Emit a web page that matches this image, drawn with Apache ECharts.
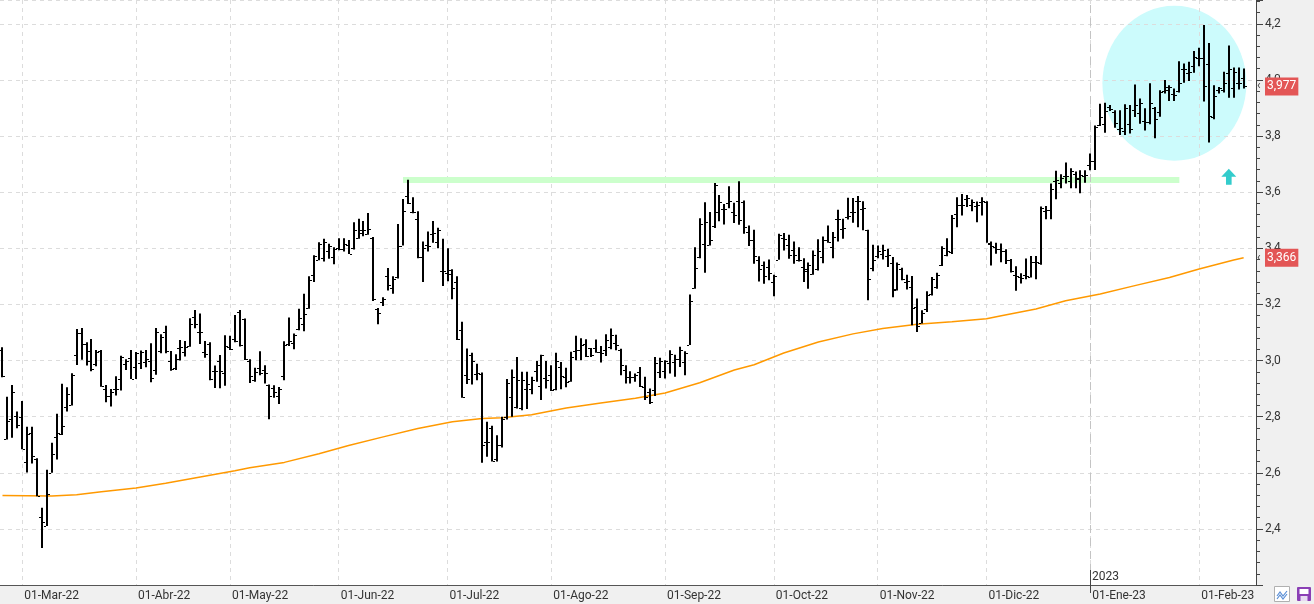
<!DOCTYPE html>
<html>
<head>
<meta charset="utf-8">
<title>Cotización</title>
<script src="https://cdn.jsdelivr.net/npm/echarts@6/dist/echarts.min.js"></script>
<style>
    html, body { margin: 0; padding: 0; background: #fff; }
    #chart { width: 1314px; height: 604px; }
</style>
</head>
<body>
<div id="chart"></div>
<script>
'use strict';

// sesiones (dias habiles) del grafico, con dos huecos al final
var firstDay = '2022-02-23';
var lastDay = '2023-02-16';
var holidays = ['2022-04-15', '2022-04-18', '2022-12-26'];
var monthNames = ['Ene', 'Feb', 'Mar', 'Abr', 'May', 'Jun', 'Jul', 'Ago', 'Sep', 'Oct', 'Nov', 'Dic'];

// OHLC diario
var opens = [
    3.037, 2.721, 2.790, 2.804, 2.800, 2.640, 2.740, 2.650, 2.442, 2.410,
    2.600, 2.727, 2.737, 2.836, 2.842, 3.020, 3.097, 3.059, 3.000, 2.988,
    3.033, 2.899, 2.875, 2.899, 2.934, 2.988, 3.008, 2.976, 2.990, 2.996,
    3.000, 2.966, 3.033, 3.103, 3.000, 2.972, 3.043, 3.030, 3.053, 3.156,
    3.100, 3.030, 3.059, 2.964, 3.000, 2.955, 3.047, 3.077, 3.172, 3.148,
    3.000, 2.930, 2.972, 2.966, 2.912, 2.903, 2.874, 2.945, 3.058, 3.064,
    3.114, 3.132, 3.187, 3.304, 3.360, 3.365, 3.390, 3.370, 3.400, 3.398,
    3.413, 3.400, 3.437, 3.466, 3.452, 3.438, 3.185, 3.210, 3.300, 3.260,
    3.298, 3.410, 3.588, 3.530, 3.505, 3.370, 3.413, 3.452, 3.422, 3.320,
    3.312, 3.321, 3.280, 3.110, 2.950, 3.019, 2.953, 2.953, 2.710, 2.758,
    2.650, 2.700, 2.800, 2.870, 2.835, 2.830, 2.900, 2.900, 2.962, 2.910,
    2.936, 2.948, 2.900, 2.977, 2.942, 2.927, 3.033, 3.037, 3.058, 3.043,
    3.045, 3.031, 3.037, 3.049, 3.061, 3.037, 2.966, 2.940, 2.940, 2.960,
    2.906, 2.888, 2.895, 2.960, 2.962, 2.993, 2.995, 3.007, 2.995, 3.057,
    3.260, 3.369, 3.416, 3.413, 3.479, 3.531, 3.540, 3.562, 3.529, 3.568,
    3.564, 3.458, 3.428, 3.360, 3.339, 3.333, 3.280, 3.360, 3.438, 3.413,
    3.395, 3.360, 3.333, 3.318, 3.310, 3.327, 3.369, 3.430, 3.404, 3.505,
    3.470, 3.511, 3.529, 3.567, 3.540, 3.464, 3.330, 3.372, 3.381, 3.372,
    3.349, 3.254, 3.327, 3.280, 3.262, 3.191, 3.135, 3.185, 3.238, 3.262,
    3.339, 3.377, 3.387, 3.523, 3.555, 3.576, 3.553, 3.550, 3.564, 3.564,
    3.416, 3.404, 3.398, 3.389, 3.358, 3.306, 3.296, 3.306, 3.299, 3.350,
    3.346, 3.533, 3.535, 3.640, 3.634, 3.656, 3.640, 3.664, 3.646, 3.658,
    3.696, 3.711, 3.840, 3.842, 3.905, 3.887, 3.824, 3.818, 3.842, 3.893,
    3.883, 3.854, 3.851, 3.901, 3.887, 3.960, 3.976, 3.949, 3.960, 4.038,
    4.026, 4.049, 4.079, 4.080, 4.058, 3.868, 3.966, 3.966, 4.026, 3.970,
    3.990, 4.008
];
var highs = [
    3.047, 2.871, 2.913, 2.818, 2.856, 2.764, 2.764, 2.652, 2.475, 2.611,
    2.707, 2.810, 2.917, 2.905, 2.955, 3.112, 3.116, 3.065, 3.077, 3.038,
    3.038, 2.913, 2.899, 2.944, 3.017, 3.005, 3.038, 3.030, 3.036, 3.038,
    3.062, 3.116, 3.094, 3.124, 3.034, 3.022, 3.073, 3.070, 3.151, 3.180,
    3.168, 3.070, 3.065, 2.982, 3.020, 3.090, 3.088, 3.162, 3.180, 3.150,
    3.005, 2.974, 3.033, 2.983, 2.915, 2.912, 2.906, 3.069, 3.153, 3.096,
    3.185, 3.238, 3.300, 3.375, 3.422, 3.434, 3.416, 3.404, 3.436, 3.436,
    3.430, 3.493, 3.505, 3.497, 3.526, 3.440, 3.187, 3.226, 3.330, 3.300,
    3.487, 3.576, 3.644, 3.582, 3.532, 3.424, 3.460, 3.497, 3.473, 3.434,
    3.400, 3.325, 3.300, 3.138, 3.043, 3.028, 2.989, 2.957, 2.782, 2.768,
    2.734, 2.800, 2.934, 2.968, 3.013, 2.960, 2.960, 2.942, 2.998, 3.021,
    2.998, 2.983, 3.028, 2.995, 2.974, 3.031, 3.088, 3.079, 3.076, 3.045,
    3.075, 3.052, 3.094, 3.114, 3.092, 3.042, 2.983, 2.962, 2.954, 2.977,
    2.942, 2.900, 3.013, 3.010, 3.001, 3.037, 3.021, 3.049, 3.033, 3.235,
    3.404, 3.507, 3.564, 3.529, 3.633, 3.590, 3.558, 3.621, 3.562, 3.639,
    3.570, 3.481, 3.466, 3.372, 3.353, 3.360, 3.306, 3.452, 3.455, 3.448,
    3.424, 3.404, 3.365, 3.349, 3.392, 3.432, 3.442, 3.481, 3.458, 3.537,
    3.505, 3.580, 3.579, 3.586, 3.568, 3.466, 3.413, 3.410, 3.413, 3.398,
    3.369, 3.349, 3.331, 3.306, 3.301, 3.221, 3.179, 3.247, 3.298, 3.313,
    3.407, 3.436, 3.519, 3.582, 3.594, 3.590, 3.574, 3.567, 3.582, 3.568,
    3.424, 3.420, 3.417, 3.397, 3.362, 3.336, 3.311, 3.364, 3.373, 3.373,
    3.549, 3.551, 3.631, 3.676, 3.664, 3.706, 3.685, 3.674, 3.678, 3.678,
    3.738, 3.838, 3.915, 3.919, 3.911, 3.892, 3.892, 3.913, 3.911, 3.984,
    3.934, 3.899, 3.988, 3.904, 3.963, 4.000, 3.981, 3.970, 4.067, 4.059,
    4.065, 4.103, 4.115, 4.196, 4.132, 3.981, 3.975, 4.029, 4.123, 4.044,
    4.044, 4.041
];
var lows = [
    2.940, 2.719, 2.725, 2.759, 2.684, 2.601, 2.633, 2.516, 2.332, 2.410,
    2.600, 2.647, 2.735, 2.818, 2.840, 2.984, 3.003, 2.982, 2.962, 2.980,
    2.907, 2.851, 2.836, 2.875, 2.893, 2.966, 2.934, 2.934, 2.970, 2.976,
    2.923, 2.949, 3.026, 3.026, 2.964, 2.966, 3.000, 3.014, 3.049, 3.115,
    3.059, 3.010, 2.930, 2.902, 2.901, 2.910, 3.038, 3.065, 3.050, 3.002,
    2.920, 2.924, 2.948, 2.918, 2.791, 2.867, 2.845, 2.930, 3.052, 3.040,
    3.108, 3.104, 3.185, 3.280, 3.357, 3.353, 3.363, 3.343, 3.393, 3.389,
    3.380, 3.396, 3.434, 3.443, 3.448, 3.212, 3.129, 3.194, 3.250, 3.238,
    3.292, 3.410, 3.558, 3.525, 3.365, 3.280, 3.389, 3.420, 3.400, 3.266,
    3.283, 3.218, 3.073, 2.867, 2.916, 2.915, 2.930, 2.636, 2.657, 2.640,
    2.640, 2.690, 2.790, 2.800, 2.829, 2.823, 2.827, 2.880, 2.924, 2.859,
    2.900, 2.891, 2.894, 2.898, 2.905, 2.924, 3.001, 3.001, 3.013, 3.013,
    3.028, 2.993, 3.016, 3.040, 3.037, 2.948, 2.918, 2.918, 2.924, 2.906,
    2.859, 2.845, 2.874, 2.938, 2.936, 2.954, 2.942, 2.977, 2.948, 3.055,
    3.256, 3.365, 3.313, 3.410, 3.472, 3.496, 3.485, 3.543, 3.490, 3.484,
    3.452, 3.408, 3.345, 3.282, 3.274, 3.286, 3.229, 3.359, 3.392, 3.363,
    3.345, 3.353, 3.280, 3.256, 3.306, 3.321, 3.347, 3.420, 3.365, 3.424,
    3.434, 3.503, 3.491, 3.475, 3.464, 3.215, 3.318, 3.365, 3.360, 3.333,
    3.226, 3.250, 3.286, 3.253, 3.126, 3.102, 3.132, 3.173, 3.232, 3.256,
    3.337, 3.372, 3.380, 3.475, 3.517, 3.547, 3.532, 3.493, 3.517, 3.420,
    3.339, 3.381, 3.350, 3.344, 3.314, 3.249, 3.275, 3.290, 3.296, 3.290,
    3.341, 3.504, 3.504, 3.575, 3.614, 3.631, 3.614, 3.614, 3.596, 3.634,
    3.678, 3.679, 3.836, 3.812, 3.889, 3.830, 3.804, 3.804, 3.809, 3.868,
    3.844, 3.820, 3.842, 3.792, 3.869, 3.952, 3.925, 3.925, 3.955, 3.990,
    3.996, 4.026, 4.049, 3.923, 3.777, 3.860, 3.952, 3.955, 3.937, 3.937,
    3.966, 3.970
];
var closes = [
    2.944, 2.783, 2.887, 2.771, 2.686, 2.738, 2.659, 2.517, 2.424, 2.524,
    2.668, 2.741, 2.765, 2.880, 2.949, 3.097, 3.059, 3.035, 2.970, 3.032,
    2.911, 2.875, 2.887, 2.899, 3.014, 3.000, 2.934, 3.026, 3.029, 3.005,
    2.937, 3.100, 3.083, 3.035, 2.970, 3.005, 3.050, 3.050, 3.132, 3.130,
    3.100, 3.024, 2.934, 2.962, 2.962, 3.053, 3.041, 3.071, 3.055, 3.005,
    2.944, 2.960, 2.954, 2.957, 2.874, 2.889, 2.900, 3.054, 3.070, 3.092,
    3.153, 3.165, 3.288, 3.372, 3.416, 3.424, 3.407, 3.398, 3.398, 3.416,
    3.380, 3.466, 3.455, 3.464, 3.470, 3.220, 3.171, 3.220, 3.270, 3.290,
    3.408, 3.532, 3.561, 3.528, 3.369, 3.400, 3.410, 3.455, 3.464, 3.318,
    3.310, 3.258, 3.076, 2.870, 2.934, 3.000, 2.957, 2.700, 2.708, 2.642,
    2.700, 2.790, 2.920, 2.942, 2.930, 2.930, 2.915, 2.930, 2.983, 3.020,
    2.930, 2.894, 3.000, 2.945, 2.924, 3.013, 3.037, 3.057, 3.016, 3.019,
    3.031, 3.028, 3.072, 3.092, 3.057, 2.983, 2.940, 2.940, 2.948, 2.909,
    2.870, 2.853, 2.990, 3.000, 2.998, 3.025, 3.007, 3.037, 3.028, 3.212,
    3.330, 3.487, 3.493, 3.428, 3.627, 3.564, 3.540, 3.567, 3.520, 3.500,
    3.476, 3.428, 3.372, 3.327, 3.300, 3.313, 3.300, 3.446, 3.434, 3.377,
    3.375, 3.357, 3.327, 3.339, 3.377, 3.392, 3.428, 3.424, 3.440, 3.503,
    3.472, 3.515, 3.531, 3.570, 3.543, 3.292, 3.357, 3.389, 3.395, 3.375,
    3.250, 3.345, 3.290, 3.282, 3.187, 3.123, 3.170, 3.232, 3.292, 3.306,
    3.400, 3.392, 3.507, 3.555, 3.555, 3.579, 3.564, 3.555, 3.568, 3.420,
    3.410, 3.398, 3.390, 3.358, 3.318, 3.300, 3.294, 3.302, 3.350, 3.352,
    3.545, 3.535, 3.611, 3.642, 3.652, 3.656, 3.676, 3.652, 3.662, 3.662,
    3.711, 3.832, 3.868, 3.889, 3.895, 3.848, 3.828, 3.901, 3.824, 3.911,
    3.919, 3.851, 3.919, 3.860, 3.958, 3.963, 3.976, 3.946, 3.990, 4.038,
    4.029, 4.081, 4.079, 3.980, 3.870, 3.943, 3.970, 3.990, 4.038, 4.029,
    3.990, 3.977
];

var maIndex = [0, 10, 15, 20, 27, 33, 40, 47, 50, 57, 64, 70, 77, 84, 91, 97, 101, 107, 114, 121,
    128, 134, 141, 148, 152, 158, 165, 172, 178, 185, 192, 199, 202, 209, 215, 222, 229, 236, 242, 249, 251];
var maValues = [2.519, 2.517, 2.522, 2.532, 2.546, 2.563, 2.585, 2.607, 2.618, 2.637, 2.668, 2.697, 2.728,
    2.758, 2.782, 2.793, 2.796, 2.807, 2.831, 2.849, 2.866, 2.884, 2.921, 2.966, 2.985, 3.027, 3.066, 3.095,
    3.114, 3.129, 3.138, 3.149, 3.160, 3.184, 3.213, 3.237, 3.267, 3.296, 3.326, 3.358, 3.366];

// anotaciones
var resistance = 3.643;
var resistanceFrom = 81;
var resistanceTo = 238;
var circleAt = [237, 3.988];
var arrowAt = [248, 3.655];

var dates = [];
(function () {
    var d = new Date(firstDay + 'T00:00:00Z');
    var end = new Date(lastDay + 'T00:00:00Z');
    for (; d <= end; d.setUTCDate(d.getUTCDate() + 1)) {
        var s = d.toISOString().slice(0, 10);
        var wd = d.getUTCDay();
        if (wd === 0 || wd === 6 || holidays.indexOf(s) >= 0) continue;
        dates.push(s);
    }
})();

function isMonthStart(i) {
    return i > 0 && dates[i].slice(5, 7) !== dates[i - 1].slice(5, 7);
}

var yearIdx = 0;
for (var k = 1; k < dates.length; k++) {
    if (dates[k].slice(0, 4) !== dates[k - 1].slice(0, 4)) { yearIdx = k; break; }
}

function fmtNum(v, n) {
    return v.toFixed(n).replace('.', ',');
}

function renderOHLC(params, api) {
    var idx = api.value(0);
    var x = Math.round(api.coord([idx, api.value(1)])[0]);
    var o = Math.round(api.coord([idx, api.value(1)])[1]) + 0.5;
    var c = Math.round(api.coord([idx, api.value(2)])[1]) + 0.5;
    var l = api.coord([idx, api.value(3)])[1];
    var h = api.coord([idx, api.value(4)])[1];
    return {
        type: 'group',
        children: [
            { type: 'line', shape: { x1: x, y1: h, x2: x, y2: l }, style: { stroke: '#000', lineWidth: 2 } },
            { type: 'line', shape: { x1: x - 3, y1: o, x2: x - 1, y2: o }, style: { stroke: '#000', lineWidth: 1 } },
            { type: 'line', shape: { x1: x + 1, y1: c, x2: x + 3, y2: c }, style: { stroke: '#000', lineWidth: 1 } }
        ]
    };
}

var font = 'Roboto, "Liberation Sans", sans-serif';
var gridColor = '#dcdcdc';

var chart = echarts.init(document.getElementById('chart'));

var option = {
    animation: false,
    backgroundColor: '#fff',
    textStyle: { fontFamily: font },
    grid: { left: 0, right: 58, top: 0, bottom: 19 },
    xAxis: {
        type: 'category',
        data: dates,
        boundaryGap: true,
        axisLine: { lineStyle: { color: '#555' } },
        axisTick: { alignWithLabel: true, interval: isMonthStart, length: 5, lineStyle: { color: '#555' } },
        axisLabel: {
            interval: isMonthStart,
            align: 'left',
            margin: 5,
            padding: [0, 0, 0, 2],
            color: '#333',
            fontSize: 12,
            fontFamily: font,
            formatter: function (v) {
                return '01-' + monthNames[+v.slice(5, 7) - 1] + '-' + v.slice(2, 4);
            }
        },
        splitLine: {
            show: true,
            alignWithLabel: true,
            interval: isMonthStart,
            lineStyle: { color: gridColor, type: [4, 4] }
        }
    },
    yAxis: {
        type: 'value',
        position: 'right',
        min: 2.2,
        max: 4.285,
        interval: 0.2,
        axisLine: { show: true, lineStyle: { color: '#444' } },
        axisTick: { show: true, length: 7, lineStyle: { color: '#444' } },
        minorTick: { show: true, splitNumber: 5, length: 4, lineStyle: { color: '#444' } },
        axisLabel: {
            margin: 9,
            color: '#333',
            fontSize: 12,
            fontFamily: font,
            showMinLabel: false,
            showMaxLabel: false,
            formatter: function (v) { return fmtNum(v, 1); }
        },
        splitLine: { show: true, lineStyle: { color: gridColor, type: [4, 4] } }
    },
    graphic: [
        { type: 'rect', z: -10, silent: true, shape: { x: 1256, y: 0, width: 58, height: 604 }, style: { fill: '#f0f0f0' } },
        { type: 'rect', z: -10, silent: true, shape: { x: 0, y: 585, width: 1314, height: 19 }, style: { fill: '#f0f0f0' } },
        { type: 'rect', z: 10, silent: true, shape: { x: 1274.5, y: 586.5, width: 15, height: 15 }, style: { fill: '#fff', stroke: '#b0b0b0' } },
        { type: 'polyline', z: 11, silent: true, shape: { points: [[1277, 596], [1280, 592], [1283, 596], [1287, 591]] }, style: { stroke: '#5b8fd6', lineWidth: 1.2, fill: null } },
        { type: 'polyline', z: 11, silent: true, shape: { points: [[1277, 599], [1280, 595], [1283, 599], [1287, 594]] }, style: { stroke: '#5b8fd6', lineWidth: 1.2, fill: null } },
        { type: 'rect', z: 10, silent: true, shape: { x: 1297, y: 587, width: 14, height: 14, r: 1 }, style: { fill: '#8a3fb5' } },
        { type: 'rect', z: 11, silent: true, shape: { x: 1299.5, y: 589, width: 9, height: 5 }, style: { fill: '#fff' } },
        { type: 'rect', z: 11, silent: true, shape: { x: 1300.5, y: 596, width: 7, height: 5 }, style: { fill: '#e8dcf2' } }
    ],
    series: [{
        // circulo de la zona de maximos
        type: 'scatter',
        silent: true,
        z: -1,
        symbol: 'circle',
        symbolSize: [144, 155],
        itemStyle: { color: '#ccfbfc', opacity: 1 },
        data: [circleAt],
        markLine: {
            silent: true,
            symbol: ['none', 'none'],
            z: 4,
            label: { show: false },
            data: [
                [
                    { coord: [resistanceFrom, resistance], lineStyle: { color: '#ccffcc', width: 6, type: 'solid' } },
                    { coord: [resistanceTo, resistance] }
                ],
                { xAxis: yearIdx, lineStyle: { color: '#c4c4c4', width: 1, type: [8, 5] } }
            ]
        }
    }, {
        type: 'scatter',
        silent: true,
        z: 4,
        symbol: 'path://M8,0 L16,8 L11,8 L11,16 L5,16 L5,8 L0,8 Z',
        symbolSize: [15, 16],
        itemStyle: { color: '#33cccc', opacity: 1 },
        data: [arrowAt]
    }, {
        name: 'Media',
        type: 'line',
        silent: true,
        z: 6,
        symbol: 'none',
        lineStyle: { color: '#ff9900', width: 1.5 },
        data: maIndex.map(function (i, n) { return [i, maValues[n]]; }),
        markLine: {
            silent: true,
            precision: 3,
            symbol: ['none', 'none'],
            z: 20,
            lineStyle: { color: 'transparent', width: 0, opacity: 1 },
            label: {
                show: true,
                position: 'end',
                distance: 1,
                opacity: 1,
                color: '#fff',
                formatter: function (p) {
                    return '{a|‹}{b|' + fmtNum(+p.value, 3) + '}';
                },
                rich: {
                    a: { color: '#444', fontSize: 12, width: 8, fontFamily: font },
                    b: {
                        color: '#fff', backgroundColor: '#e35656', fontSize: 12, lineHeight: 13,
                        padding: [3, 2, 3, 2], fontFamily: font
                    }
                }
            },
            data: [
                { yAxis: closes[closes.length - 1] },
                { yAxis: maValues[maValues.length - 1] }
            ]
        }
    }, {
        name: 'Precio',
        type: 'custom',
        z: 10,
        renderItem: renderOHLC,
        encode: { x: 0, y: [1, 2, 3, 4] },
        data: opens.map(function (o, i) { return [i, o, closes[i], lows[i], highs[i]]; })
    }]
};

chart.setOption(option);

// marca del cambio de año sobre el eje
var yx = Math.round(chart.convertToPixel({ xAxisIndex: 0 }, dates[yearIdx]));
chart.setOption({
    graphic: option.graphic.concat([
        { type: 'line', z: 12, silent: true, shape: { x1: yx + 0.5, y1: 570, x2: yx + 0.5, y2: 593 }, style: { stroke: '#444', lineWidth: 1 } },
        { type: 'text', z: 12, silent: true, x: yx + 2, y: 577, style: { text: dates[yearIdx].slice(0, 4), fill: '#333', font: '12px ' + font, verticalAlign: 'middle' } }
    ])
});
</script>
</body>
</html>
